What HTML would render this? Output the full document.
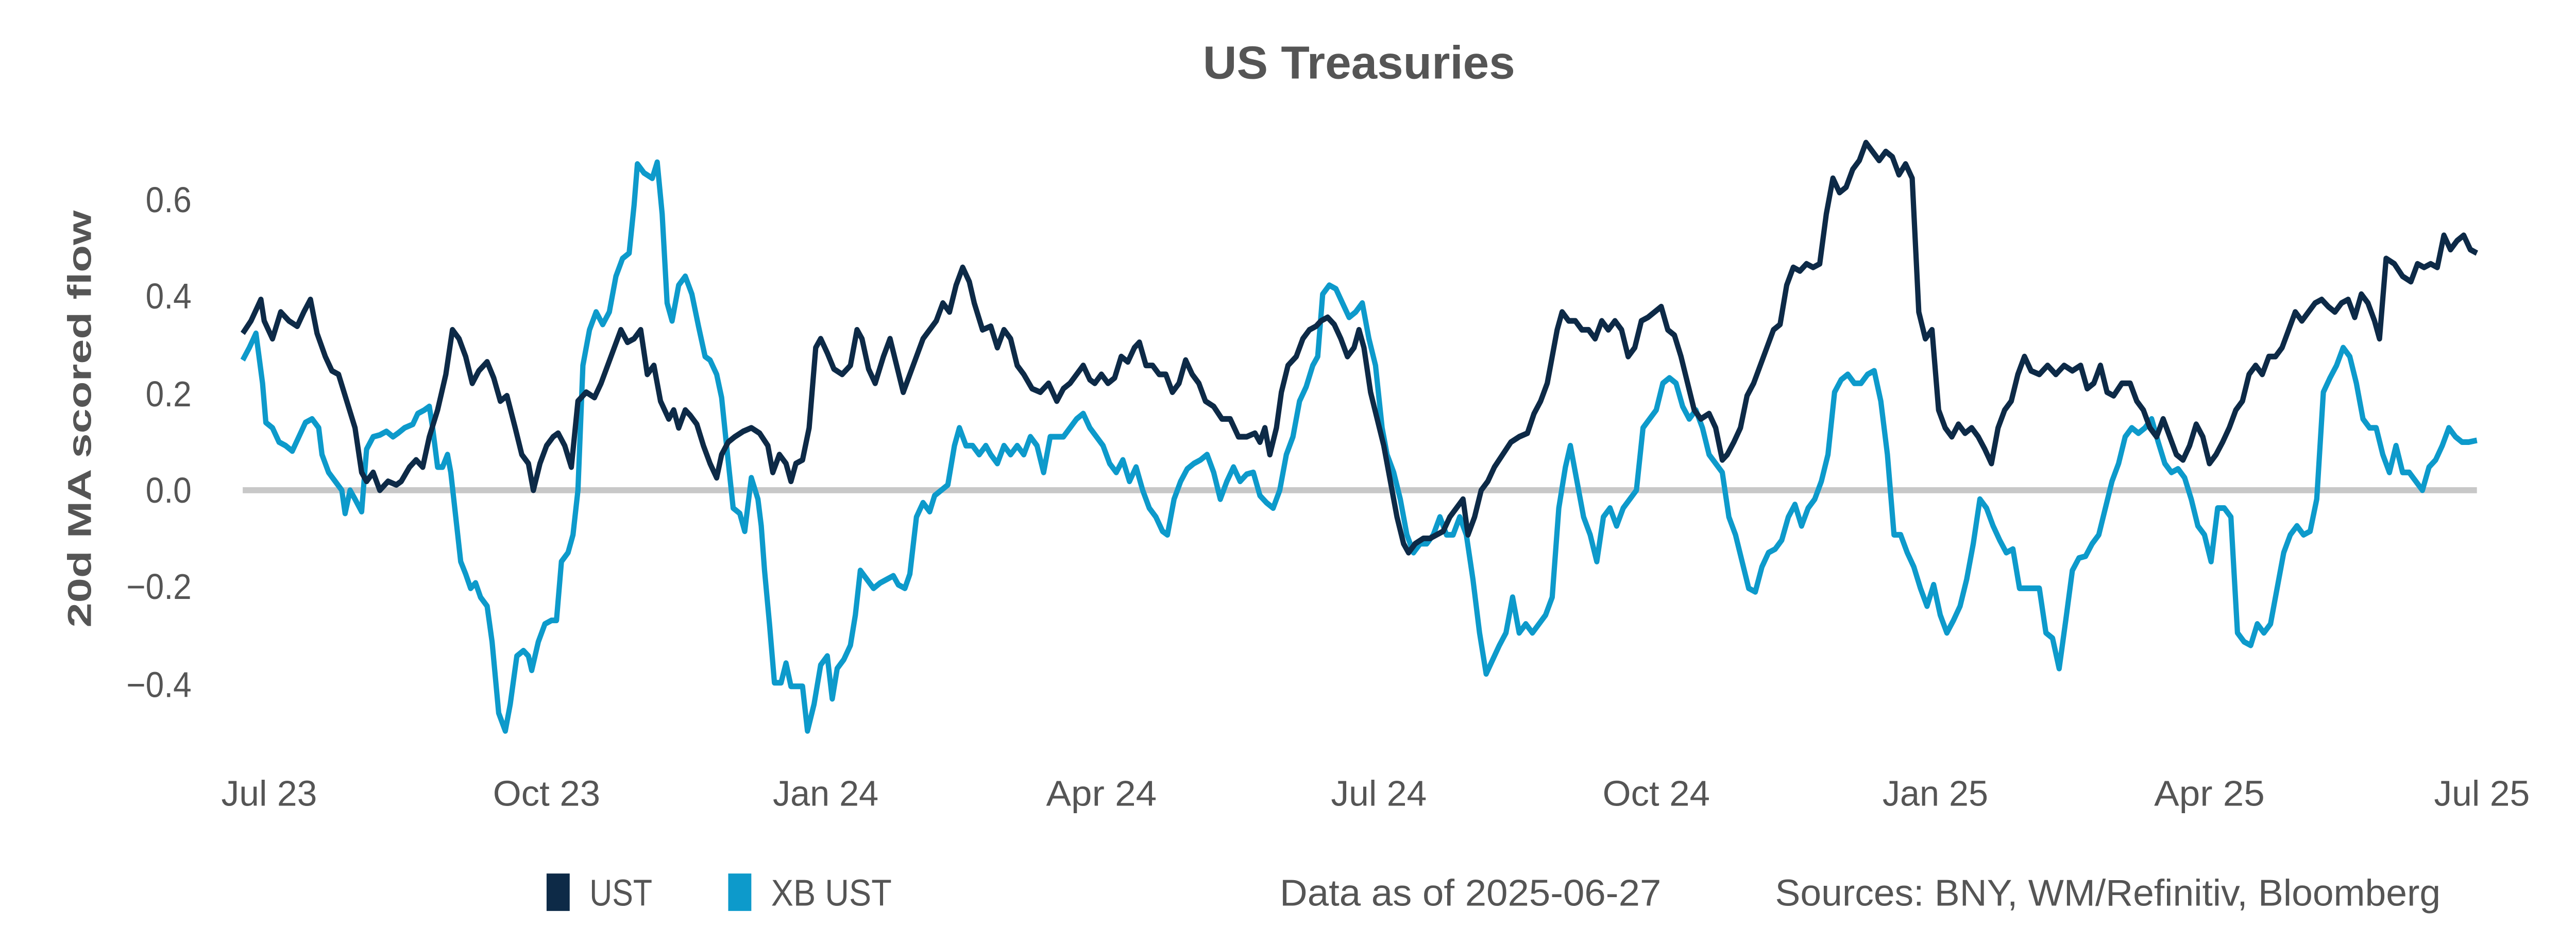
<!DOCTYPE html>
<html><head><meta charset="utf-8"><style>
html,body{margin:0;padding:0;background:#fff;width:100%;height:100%;overflow:hidden;}
svg{display:block;width:100vw;height:100vh;}
text{font-family:"Liberation Sans",sans-serif;}
</style></head><body>
<svg viewBox="0 0 1560 520" preserveAspectRatio="none" xmlns="http://www.w3.org/2000/svg">
<rect width="1560" height="520" fill="#fff"/>
<text x="823" y="44" text-anchor="middle" font-size="26" font-weight="bold" fill="#555" textLength="189" lengthAdjust="spacingAndGlyphs">US Treasuries</text>
<text transform="translate(55,235) rotate(-90)" text-anchor="middle" font-size="20" font-weight="bold" fill="#555" textLength="234" lengthAdjust="spacingAndGlyphs">20d MA scored flow</text>
<g font-size="20" fill="#555" text-anchor="end">
<text x="116" y="119">0.6</text>
<text x="116" y="173">0.4</text>
<text x="116" y="228">0.2</text>
<text x="116" y="282">0.0</text>
<text x="116" y="336">−0.2</text>
<text x="116" y="391">−0.4</text>
</g>
<g font-size="20" fill="#555" text-anchor="middle">
<text x="163" y="452" textLength="58" lengthAdjust="spacingAndGlyphs">Jul 23</text>
<text x="331" y="452" textLength="65" lengthAdjust="spacingAndGlyphs">Oct 23</text>
<text x="500" y="452" textLength="64" lengthAdjust="spacingAndGlyphs">Jan 24</text>
<text x="667" y="452" textLength="67" lengthAdjust="spacingAndGlyphs">Apr 24</text>
<text x="835" y="452" textLength="58" lengthAdjust="spacingAndGlyphs">Jul 24</text>
<text x="1003" y="452" textLength="65" lengthAdjust="spacingAndGlyphs">Oct 24</text>
<text x="1172" y="452" textLength="64" lengthAdjust="spacingAndGlyphs">Jan 25</text>
<text x="1338" y="452" textLength="67" lengthAdjust="spacingAndGlyphs">Apr 25</text>
<text x="1503" y="452" textLength="58" lengthAdjust="spacingAndGlyphs">Jul 25</text>
</g>
<line x1="147" y1="275" x2="1500" y2="275" stroke="#c8c8c8" stroke-width="3.4"/>
<polyline fill="none" stroke="#0d9acb" stroke-width="3.2" stroke-linejoin="round" points="147,202 151,195 155,187 159,215 161,237 165,240 169,248 173,250 177,253 181,245 185,237 189,235 193,240 195,255 199,265 203,270 207,275 209,288 212,275 215,280 219,287 222,252 226,245 230,244 234,242 238,245 241,243 245,240 250,238 253,232 257,230 260,228 262,240 265,262 268,262 271,255 273,265 276,290 279,315 282,322 285,330 288,327 291,335 295,340 298,360 302,400 306,410 309,395 313,368 317,365 320,368 322,376 326,360 330,350 334,348 337,348 340,315 344,310 347,300 350,275 353,205 357,185 361,175 365,182 369,175 373,155 377,145 381,142 384,115 386,92 390,97 395,100 398,91 401,120 404,170 407,180 411,160 415,155 419,165 423,183 427,200 430,202 434,210 437,223 440,250 444,285 448,288 451,298 455,268 459,280 461,295 463,320 466,350 469,383 473,383 476,372 479,385 483,385 486,385 489,410 493,395 497,373 501,368 504,392 507,375 511,370 515,362 518,345 521,320 525,325 529,330 533,327 537,325 541,323 544,328 548,330 551,322 555,290 559,282 563,287 566,278 570,275 574,272 578,250 581,240 585,250 589,250 593,255 597,250 600,255 604,260 608,250 612,255 616,250 620,255 624,245 628,250 632,265 636,245 640,245 644,245 648,240 652,235 656,232 660,240 664,245 668,250 672,260 676,265 680,258 684,270 688,262 692,275 696,285 700,290 704,298 707,300 711,280 715,270 719,263 723,260 727,258 731,255 735,265 739,280 743,270 747,262 751,270 755,266 759,265 763,278 767,282 771,285 775,275 779,255 783,245 787,225 791,217 795,205 798,200 801,165 805,160 809,162 813,170 817,178 821,175 825,170 829,190 833,205 837,240 840,255 844,265 848,280 852,300 856,310 860,305 864,305 868,300 872,290 876,300 880,300 884,290 888,300 892,325 896,355 900,378 904,370 908,362 912,355 916,335 920,355 924,350 928,355 932,350 936,345 940,335 944,285 948,262 951,250 955,270 959,290 963,300 967,315 971,290 975,285 979,295 983,285 987,280 991,275 995,240 999,235 1003,230 1007,215 1011,212 1015,215 1019,228 1023,235 1027,230 1031,240 1035,255 1039,260 1043,265 1047,290 1051,300 1055,315 1059,330 1063,332 1067,318 1071,310 1075,308 1079,303 1083,290 1087,283 1091,295 1095,285 1099,280 1103,270 1107,255 1111,220 1115,213 1119,210 1123,215 1127,215 1131,210 1135,208 1139,225 1143,255 1147,300 1151,300 1155,310 1159,318 1163,330 1167,340 1171,328 1175,345 1179,355 1183,348 1187,340 1191,325 1195,305 1199,280 1203,285 1207,295 1211,303 1215,310 1219,308 1223,330 1227,330 1231,330 1235,330 1239,355 1243,358 1247,375 1251,348 1255,320 1259,313 1263,312 1267,305 1271,300 1275,285 1279,270 1283,260 1287,245 1291,240 1295,243 1299,240 1303,235 1307,248 1311,260 1315,265 1319,263 1323,268 1327,280 1331,295 1335,300 1339,315 1343,285 1347,285 1351,290 1355,355 1359,360 1363,362 1367,350 1371,355 1375,350 1379,330 1383,310 1387,300 1391,295 1395,300 1399,298 1403,280 1407,220 1411,212 1415,205 1419,195 1423,200 1427,215 1431,235 1435,240 1439,240 1443,255 1447,265 1451,250 1455,265 1459,265 1463,270 1467,275 1471,262 1475,258 1479,250 1483,240 1487,245 1491,248 1495,248 1500,247"/>
<polyline fill="none" stroke="#0d2a47" stroke-width="3.2" stroke-linejoin="round" points="147,187 152,180 158,168 160,180 165,190 170,175 175,180 180,183 184,175 188,168 192,187 197,200 201,208 205,210 210,225 215,240 219,265 222,270 226,265 230,275 235,270 240,272 243,270 248,262 252,258 256,262 260,245 265,230 270,210 274,185 278,190 282,200 286,215 290,208 295,203 299,212 303,225 307,222 312,240 316,255 320,260 323,275 327,260 331,250 335,245 338,243 342,250 346,262 350,225 355,220 360,223 364,215 368,205 372,195 376,185 380,192 384,190 388,185 392,210 396,205 400,225 405,235 408,230 411,240 415,230 418,233 422,238 426,250 430,260 434,268 437,255 441,248 445,245 450,242 455,240 460,243 465,250 468,265 472,255 476,260 479,270 482,260 486,258 490,240 494,195 497,190 501,198 505,207 510,210 515,205 519,185 522,190 526,207 530,215 535,200 539,190 543,205 547,220 551,210 555,200 559,190 563,185 567,180 571,170 575,175 579,160 583,150 587,158 590,170 595,185 600,183 604,195 608,185 612,190 616,205 620,210 625,218 630,220 635,215 640,225 644,218 648,215 652,210 656,205 660,213 663,215 667,210 671,215 675,212 679,200 683,203 687,195 690,192 694,205 698,205 702,210 706,210 710,220 714,215 718,202 722,210 726,215 730,225 735,228 740,235 745,235 750,245 755,245 760,243 763,248 766,240 769,255 773,240 776,220 780,205 785,200 789,190 793,185 797,183 800,180 804,178 808,182 812,190 816,200 820,195 823,185 826,195 830,220 834,235 838,250 842,270 846,290 850,305 853,310 857,305 862,302 866,302 870,300 874,298 878,290 882,285 886,280 889,300 893,290 897,275 901,270 905,262 910,255 915,248 920,245 925,243 929,232 933,225 937,215 940,200 943,185 946,175 950,180 954,180 958,185 962,185 966,190 970,180 974,185 978,180 982,185 986,200 990,195 994,180 998,178 1002,175 1006,172 1010,185 1014,188 1018,200 1022,215 1026,230 1030,235 1035,232 1039,240 1043,258 1046,255 1050,248 1054,240 1058,222 1062,215 1066,205 1070,195 1074,185 1078,182 1082,160 1086,150 1090,152 1094,148 1098,150 1102,148 1106,120 1110,100 1114,108 1118,105 1122,95 1126,90 1130,80 1134,85 1138,90 1142,85 1146,88 1150,98 1154,92 1158,100 1162,175 1166,190 1170,185 1174,230 1178,240 1182,245 1186,238 1190,243 1194,240 1198,245 1202,252 1206,260 1210,240 1214,230 1218,225 1222,210 1226,200 1230,208 1235,210 1240,205 1245,210 1250,205 1255,208 1260,205 1264,218 1268,215 1272,205 1276,220 1280,222 1285,215 1290,215 1294,225 1298,230 1302,240 1306,245 1310,235 1314,245 1318,255 1322,258 1326,250 1330,238 1334,245 1338,260 1342,255 1346,248 1350,240 1354,230 1358,225 1362,210 1366,205 1370,210 1374,200 1378,200 1382,195 1386,185 1390,175 1394,180 1398,175 1402,170 1406,168 1410,172 1414,175 1418,170 1422,168 1426,178 1430,165 1434,170 1438,180 1441,190 1445,145 1450,148 1455,155 1460,158 1464,148 1468,150 1472,148 1476,150 1480,132 1484,140 1488,135 1492,132 1496,140 1500,142"/>
<rect x="331" y="490" width="14" height="21" fill="#0d2a47"/>
<text x="357" y="508" font-size="21" fill="#555" textLength="38" lengthAdjust="spacingAndGlyphs">UST</text>
<rect x="441" y="490" width="14" height="21" fill="#0d9acb"/>
<text x="467" y="508" font-size="21" fill="#555" textLength="73" lengthAdjust="spacingAndGlyphs">XB UST</text>
<text x="775" y="508" font-size="21" fill="#555" textLength="231" lengthAdjust="spacingAndGlyphs">Data as of 2025-06-27</text>
<text x="1075" y="508" font-size="21" fill="#555" textLength="403" lengthAdjust="spacingAndGlyphs">Sources:  BNY, WM/Refinitiv, Bloomberg</text>
</svg>
</body></html>
